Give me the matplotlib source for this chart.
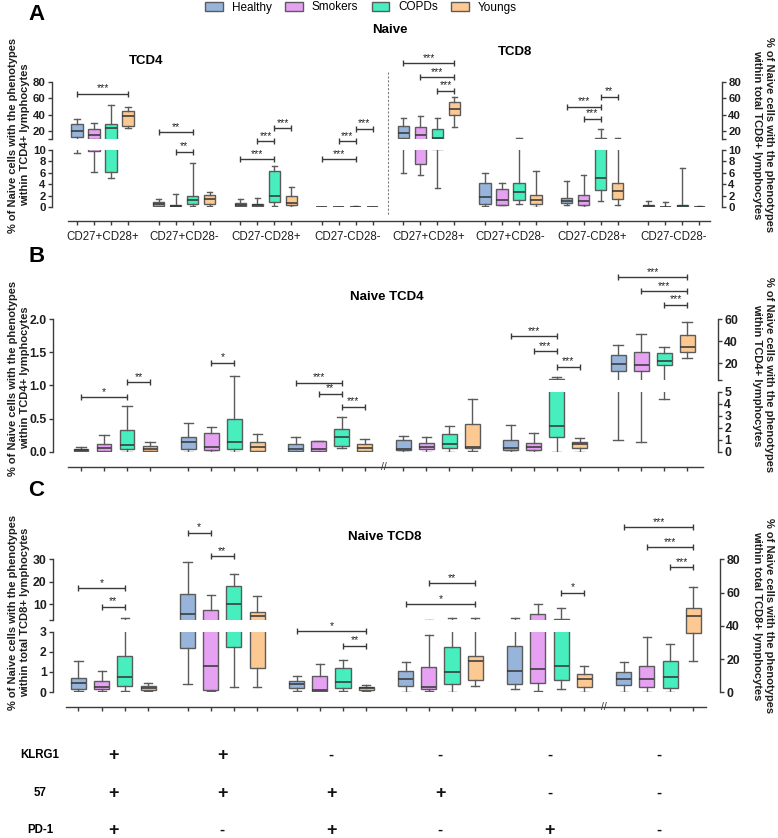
import matplotlib
matplotlib.use('Agg')
import matplotlib.pyplot as plt
from matplotlib.patches import Patch
from matplotlib.transforms import blended_transform_factory as blend

plt.rcParams['font.family'] = ['Liberation Sans', 'DejaVu Sans']
plt.rcParams['axes.linewidth'] = 1.0

W, H = 778, 838
fig = plt.figure(figsize=(W / 100, H / 100), dpi=100)

# ---------------- data ----------------
SERIES = ['Healthy', 'Smokers', 'COPDs', 'Youngs']
COLORS = ['#97b5da', '#e6a1f3', '#47efbf', '#fdc992']

A_groups = ['CD27+CD28+', 'CD27+CD28-', 'CD27-CD28+', 'CD27-CD28-',
            'CD27+CD28+', 'CD27+CD28-', 'CD27-CD28+', 'CD27-CD28-']
A_lo = [[9.5, 6.2, 5.2, 24.1], [0.1, 0.1, 0.23, 0.23], [0.05, 0.05, 0.23, 0.05], [0.0, 0.0, 0.0, 0.0],
        [5.9, 5.6, 3.4, 24.9], [0.23, 0.35, 0.58, 0.12], [0.35, 0.05, 1.1, 0.35], [0.0, 0.0, 0.0, 0.0]]
A_q1 = [[12.5, 9.9, 6.1, 26.6], [0.23, 0.2, 0.58, 0.64], [0.15, 0.15, 0.87, 0.4], [0.01, 0.01, 0.02, 0.01],
        [11.0, 7.6, 10.2, 39.6], [0.64, 0.47, 1.2, 0.64], [0.7, 0.41, 3.1, 1.5], [0.05, 0.03, 0.05, 0.03]]
A_med = [[20.0, 14.9, 24.0, 38.8], [0.52, 0.3, 1.28, 1.4], [0.4, 0.35, 1.9, 0.67], [0.02, 0.02, 0.05, 0.02],
         [17.1, 14.9, 12.0, 46.9], [1.75, 1.28, 2.6, 1.33], [1.16, 1.05, 5.1, 2.8], [0.2, 0.05, 0.2, 0.05]]
A_q3 = [[28.2, 22.2, 28.2, 44.1], [0.87, 0.4, 2.0, 2.1], [0.7, 0.6, 6.3, 1.9], [0.03, 0.03, 0.1, 0.03],
        [25.8, 25.0, 22.0, 55.5], [4.2, 3.2, 4.2, 2.1], [1.63, 2.2, 11.5, 4.25], [0.4, 0.06, 0.4, 0.06]]
A_hi = [[34.3, 29.3, 51.8, 49.4], [1.45, 2.27, 7.7, 2.67], [1.4, 1.6, 7.2, 3.5], [0.05, 0.05, 0.15, 0.05],
        [35.5, 37.9, 35.5, 61.2], [6.0, 4.3, 11.0, 6.4], [4.6, 5.7, 22.5, 11.0], [1.16, 0.93, 6.9, 0.2]]
# (group, box1, box2, height on upper-axis scale, label)
A_sig = [(0, 0, 3, 65.6, '***'), (1, 0, 2, 18.8, '**'), (1, 1, 2, -5.3, '**'),
         (2, 0, 2, -14.2, '***'), (2, 1, 2, 7.4, '***'), (2, 2, 3, 23.3, '***'),
         (3, 0, 2, -14.3, '***'), (3, 1, 2, 7.4, '***'), (3, 2, 3, 22.8, '***'),
         (4, 0, 3, 102.4, '***'), (4, 1, 3, 85.7, '***'), (4, 2, 3, 69.3, '***'),
         (6, 0, 2, 49.4, '***'), (6, 1, 2, 35.1, '***'), (6, 2, 3, 61.6, '**')]

B_lo = [[0, 0, 0, 0], [0, 0, 0, 0], [0, 0, 0.05, 0], [0, 0, 0, 0.06], [0, 0, 0, 0], [0.94, 0.83, 4.39, 25.0]]
B_q1 = [[0.005, 0.005, 0.04, 0.005], [0.045, 0.03, 0.045, 0.005], [0.015, 0.01, 0.08, 0.01],
        [0.11, 0.19, 0.28, 0.33], [0.11, 0.14, 1.25, 0.28], [13.4, 13.4, 18.8, 30.4]]
B_med = [[0.02, 0.055, 0.095, 0.045], [0.14, 0.065, 0.146, 0.075], [0.045, 0.035, 0.22, 0.05],
         [0.19, 0.36, 0.61, 0.42], [0.28, 0.39, 2.14, 0.61], [19.4, 18.8, 21.8, 34.6]]
B_q3 = [[0.035, 0.11, 0.32, 0.08], [0.22, 0.28, 0.49, 0.14], [0.11, 0.16, 0.34, 0.12],
        [0.97, 0.72, 1.44, 2.33], [0.94, 0.75, 5.5, 0.83], [27.8, 29.9, 29.0, 45.4]]
B_hi = [[0.07, 0.25, 0.69, 0.14], [0.43, 0.37, 1.14, 0.26], [0.22, 0.165, 0.52, 0.19],
        [1.33, 1.19, 2.17, 4.39], [2.25, 1.56, 8.1, 1.11], [37.0, 46.9, 35.2, 57.6]]
B_sig_left = [(0, 0, 2, 0.82, '*'), (0, 2, 3, 1.05, '**'), (1, 1, 2, 1.34, '*'),
              (2, 0, 2, 1.04, '***'), (2, 1, 2, 0.87, '**'), (2, 2, 3, 0.68, '***')]
B_sig_right = [(4, 0, 2, 44.5, '***'), (4, 1, 2, 31.0, '***'), (4, 2, 3, 17.0, '***'),
               (5, 0, 3, 97.6, '***'), (5, 1, 3, 85.0, '***'), (5, 2, 3, 73.0, '***')]

C_lo = [[0.03, 0.03, 0.03, 0.03], [0.38, 0.03, 0.25, 0.23], [0.03, 0.03, 0.03, 0.03],
        [0.0, 0.03, 0.0, 0.28], [0.15, 0.03, 0.15, 0.0], [0.0, 0.0, 0.0, 19.0]]
C_q1 = [[0.16, 0.15, 0.28, 0.12], [2.19, 0.08, 2.26, 1.17], [0.21, 0.07, 0.2, 0.12],
        [0.31, 0.16, 0.4, 0.58], [0.41, 0.44, 0.6, 0.25], [4.2, 3.0, 2.6, 35.7]]
C_med = [[0.44, 0.23, 0.74, 0.2], [5.7, 1.27, 10.3, 4.7], [0.41, 0.1, 0.49, 0.18],
         [0.64, 0.23, 0.99, 1.53], [1.04, 1.15, 1.27, 0.64], [7.8, 7.8, 9.0, 45.9]]
C_q3 = [[0.72, 0.53, 1.81, 0.28], [14.6, 7.6, 18.1, 6.7], [0.53, 0.8, 1.19, 0.25],
        [1.02, 1.25, 2.26, 1.81], [2.31, 5.7, 3.5, 0.9], [12.0, 15.8, 18.6, 50.7]]
C_hi = [[1.56, 1.02, 3.8, 0.46], [28.8, 14.1, 23.3, 13.7], [0.82, 1.37, 1.58, 0.36],
        [1.48, 2.83, 3.8, 3.8], [3.7, 10.0, 8.2, 1.3], [18.0, 33.0, 28.9, 63.1]]
C_sig_left = [(0, 0, 2, 17.0, '*'), (0, 1, 2, 8.8, '**'), (1, 0, 1, 41.7, '*'), (1, 1, 2, 31.3, '**'),
              (2, 0, 3, -2.0, '*'), (2, 2, 3, -8.5, '**'), (3, 1, 3, 19.2, '**'), (3, 0, 3, 9.9, '*'),
              (4, 2, 3, 15.0, '*')]
C_sig_right = [(5, 0, 3, 99.2, '***'), (5, 1, 3, 87.3, '***'), (5, 2, 3, 75.1, '***')]

MARKERS = ['KLRG1', '57', 'PD-1']
KLRG1 = ['+', '+', '-', '-', '-', '-']
CD57 = ['+', '+', '+', '+', '-', '-']
PD1 = ['+', '-', '+', '-', '+', '-']

# ---------------- helpers ----------------
EDGE = '#5b5b5b'
AXC = '#3c3c3c'
PT = 0.72


def px_ax(x0, x1, ytop, ybot, P0, U):
    ax = fig.add_axes([x0 / W, 1 - ybot / H, (x1 - x0) / W, (ybot - ytop) / H])
    ax.set_xlim((x0 - P0) / U, (x1 - P0) / U)
    ax.patch.set_alpha(0)
    for s in ax.spines.values():
        s.set_visible(False)
    ax.tick_params(which='both', bottom=False, left=False, right=False, top=False,
                   labelbottom=False, labelleft=False, labelright=False)
    return ax


def yaxis(ax, sides, lim, ticks, labels, fs=8.2):
    ax.set_ylim(*lim)
    ax.set_yticks(ticks)
    ax.set_yticklabels(labels, fontweight='bold', fontsize=fs, color='#1e1e1e')
    for side in sides:
        sp = ax.spines[side]
        sp.set_visible(True)
        sp.set_bounds(*lim)
        sp.set_color(AXC)
        if side == 'left':
            ax.tick_params(axis='y', left=True, labelleft=True, length=3, width=1, pad=1.5, color=AXC)
        else:
            ax.tick_params(axis='y', right=True, labelright=True, length=3, width=1, pad=1.5, color=AXC)


def xaxis(ax, positions, bounds, out_px):
    sp = ax.spines['bottom']
    sp.set_visible(True)
    sp.set_position(('outward', out_px * PT))
    sp.set_bounds(*bounds)
    sp.set_color(AXC)
    ax.set_xticks(positions)
    ax.tick_params(axis='x', bottom=True, labelbottom=False, length=3, width=1, color=AXC)


def draw_boxes(ax, lo, q1, med, q3, hi, groups, GS, width, capw):
    stats, pos, cols = [], [], []
    for g in groups:
        for b in range(4):
            stats.append(dict(whislo=lo[g][b], q1=q1[g][b], med=med[g][b], q3=q3[g][b],
                              whishi=hi[g][b], fliers=[]))
            pos.append(g * GS + b)
            cols.append(COLORS[b])
    r = ax.bxp(stats, positions=pos, widths=width, capwidths=capw, patch_artist=True,
               showfliers=False, manage_ticks=False,
               boxprops=dict(edgecolor=EDGE, linewidth=1.0),
               medianprops=dict(color='#333333', linewidth=1.1),
               whiskerprops=dict(color=EDGE, linewidth=1.0),
               capprops=dict(color=EDGE, linewidth=1.0))
    for patch, c in zip(r['boxes'], cols):
        patch.set_facecolor(c)


def bracket(ax, GS, sig):
    for g, b1, b2, y, lab in sig:
        x1, x2 = g * GS + b1, g * GS + b2
        ax.plot([x1, x2], [y, y], color='#3a3a3a', lw=1.0, marker='|', ms=5, mew=1.0,
                clip_on=False, solid_capstyle='butt')
        ax.annotate(lab, ((x1 + x2) / 2, y), xytext=(0, 0.3), textcoords='offset points',
                    ha='center', va='bottom', fontsize=7.5, color='#222222', annotation_clip=False)


def all_pos(n, GS):
    return [g * GS + b for g in range(n) for b in range(4)]


def ylabel(x, y, txt, rot):
    fig.text(x / W, 1 - y / H, txt, rotation=rot, ha='center', va='center', fontsize=8,
             fontweight='bold', multialignment='center', linespacing=1.15, color='#1e1e1e')


# ---------------- Panel A ----------------
GA, PA, UA = 4.8, 77, 17
A_up = px_ax(52, 722, 81.7, 139.3, PA, UA)
A_low = px_ax(52, 722, 150, 207.3, PA, UA)
for ax in (A_up, A_low):
    draw_boxes(ax, A_lo, A_q1, A_med, A_q3, A_hi, range(8), GA, 0.65, 0.3)
yaxis(A_up, ['left', 'right'], (10, 80), [10, 20, 40, 60, 80], ['', '20', '40', '60', '80'])
yaxis(A_low, ['left', 'right'], (0, 10), [0, 2, 4, 6, 8, 10], ['0', '2', '4', '6', '8', '10'])
xaxis(A_low, all_pos(8, GA), ((68 - PA) / UA, (710 - PA) / UA), 13.7)
bracket(A_up, GA, A_sig)
A_up.set_xlim((52 - PA) / UA, (722 - PA) / UA)
A_low.set_xlim((52 - PA) / UA, (722 - PA) / UA)
trA = blend(A_low.transData, fig.transFigure)
for g, name in enumerate(A_groups):
    A_low.text(g * GA + 1.5, 1 - 237 / H, name, transform=trA, ha='center', va='center',
               fontsize=8.3, color='#1e1e1e')
xsep = (3 * GA + 3 + 4 * GA) / 2
A_low.plot([xsep, xsep], [1 - 72 / H, 1 - 215 / H], transform=trA, color='#808080', lw=0.8,
           ls=(0, (2, 1.5)), clip_on=False)

fig.text(28 / W, 1 - 14 / H, 'A', fontsize=16, fontweight='bold', va='center', ha='left')
fig.text(390 / W, 1 - 30 / H, 'Naive', fontsize=9.5, fontweight='bold', ha='center', va='center')
fig.text(146 / W, 1 - 61 / H, 'TCD4', fontsize=9.5, fontweight='bold', ha='center', va='center')
fig.text(515 / W, 1 - 52 / H, 'TCD8', fontsize=9.5, fontweight='bold', ha='center', va='center')
ylabel(19, 135, '% of Naive cells with the phenotypes\nwithin TCD4+ lymphocytes', 90)
ylabel(763, 135, '% of Naive cells with the phenotypes\nwithin total TCD8+ lymphocytes', 270)

handles = [Patch(facecolor=c, edgecolor=EDGE, linewidth=1.0, label=s) for s, c in zip(SERIES, COLORS)]
fig.legend(handles=handles, loc='center', bbox_to_anchor=(361 / W, 1 - 7.5 / H), ncol=4,
           frameon=False, fontsize=8.5, handlelength=1.5, handleheight=0.8, columnspacing=1.15,
           handletextpad=0.75, borderpad=0, borderaxespad=0)

# ---------------- Panel B ----------------
GB, PB, UB = 4.67, 81, 23
B_left = px_ax(53, 718, 319, 451.7, PB, UB)
B_rlow = px_ax(53, 718, 391.7, 451.7, PB, UB)
B_rup = px_ax(53, 718, 319, 380, PB, UB)
draw_boxes(B_left, B_lo, B_q1, B_med, B_q3, B_hi, range(3), GB, 0.65, 0.4)
for ax in (B_rlow, B_rup):
    draw_boxes(ax, B_lo, B_q1, B_med, B_q3, B_hi, range(3, 6), GB, 0.65, 0.4)
yaxis(B_left, ['left'], (0, 2), [0, 0.5, 1, 1.5, 2], ['0.0', '0.5', '1.0', '1.5', '2.0'], 8.8)
yaxis(B_rlow, ['right'], (0, 5), [0, 1, 2, 3, 4, 5], ['0', '1', '2', '3', '4', '5'], 8.8)
yaxis(B_rup, ['right'], (5, 60), [5, 20, 40, 60], ['', '20', '40', '60'], 8.8)
xaxis(B_left, all_pos(6, GB), ((68 - PB) / UB, (703 - PB) / UB), 15.3)
bracket(B_left, GB, B_sig_left)
bracket(B_rup, GB, B_sig_right)
for ax in (B_left, B_rlow, B_rup):
    ax.set_xlim((53 - PB) / UB, (718 - PB) / UB)
trB = blend(B_left.transData, fig.transFigure)
B_left.text((2 * GB + 3 + 3 * GB) / 2, 1 - 467 / H, '//', transform=trB, ha='center', va='center',
            fontsize=7.5, color='#3a3a3a')
fig.text(28 / W, 1 - 256 / H, 'B', fontsize=16, fontweight='bold', va='center', ha='left')
fig.text(387 / W, 1 - 297 / H, 'Naive TCD4', fontsize=9.5, fontweight='bold', ha='center', va='center')
ylabel(19, 378, '% of Naive cells with the phenotypes\nwithin TCD4+ lymphocytes', 90)
ylabel(763, 375, '% of Naive cells with the phenotypes\nwithin TCD4+ lymphocytes', 270)

# ---------------- Panel C ----------------
GC, PC, UC = 4.7, 78.5, 23.2
C_lup = px_ax(53, 720, 559, 620, PC, UC)
C_llow = px_ax(53, 720, 631.7, 692, PC, UC)
C_r = px_ax(53, 720, 559.3, 692.3, PC, UC)
for ax in (C_lup, C_llow):
    draw_boxes(ax, C_lo, C_q1, C_med, C_q3, C_hi, range(5), GC, 0.65, 0.35)
draw_boxes(C_r, C_lo, C_q1, C_med, C_q3, C_hi, [5], GC, 0.65, 0.35)
yaxis(C_lup, ['left'], (3, 30), [3, 10, 20, 30], ['', '10', '20', '30'], 8.8)
yaxis(C_llow, ['left'], (0, 3), [0, 1, 2, 3], ['0', '1', '2', '3'], 8.8)
yaxis(C_r, ['right'], (0, 80), [0, 20, 40, 60, 80], ['0', '20', '40', '60', '80'], 8.8)
xaxis(C_llow, all_pos(6, GC), ((66 - PC) / UC, (706 - PC) / UC), 15)
bracket(C_lup, GC, C_sig_left)
bracket(C_r, GC, C_sig_right)
for ax in (C_lup, C_llow, C_r):
    ax.set_xlim((53 - PC) / UC, (720 - PC) / UC)
trC = blend(C_llow.transData, fig.transFigure)
C_llow.text((4 * GC + 3 + 5 * GC) / 2, 1 - 707 / H, '//', transform=trC, ha='center', va='center',
            fontsize=7.5, color='#3a3a3a')
fig.text(28 / W, 1 - 490 / H, 'C', fontsize=16, fontweight='bold', va='center', ha='left')
fig.text(385 / W, 1 - 537 / H, 'Naive TCD8', fontsize=9.5, fontweight='bold', ha='center', va='center')
ylabel(19, 612, '% of Naive cells with the phenotypes\nwithin total TCD8+ lymphocytes', 90)
ylabel(763, 616, '% of Naive cells with the phenotypes\nwithin total TCD8+ lymphocytes', 270)

# marker rows
row_y = [755, 793, 830]
for name, signs, yy in zip(MARKERS, [KLRG1, CD57, PD1], row_y):
    fig.text(40 / W, 1 - yy / H, name, fontsize=8.3, fontweight='bold', ha='center', va='center')
    for g, s in enumerate(signs):
        if s == '+':
            C_llow.text(g * GC + 1.5, 1 - yy / H, '+', transform=trC, ha='center', va='center',
                        fontsize=13, fontweight='bold', color='#111111')
        else:
            C_llow.text(g * GC + 1.5, 1 - yy / H, '-', transform=trC, ha='center', va='center',
                        fontsize=11, fontweight='bold', color='#111111')

fig.savefig('out.png', dpi=100)
